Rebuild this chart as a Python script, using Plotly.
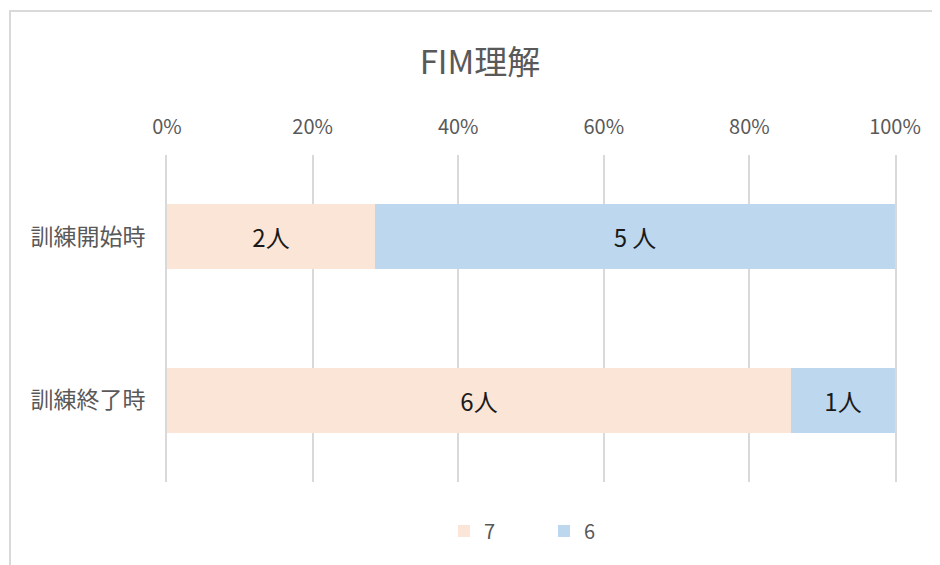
import plotly.graph_objects as go

categories = ["訓練開始時", "訓練終了時"]
series_names = ["7", "6"]
counts_7 = [2, 6]
counts_6 = [5, 1]
labels_7 = ["2人", "6人"]
labels_6 = ["5 人", "1人"]
tick_vals = [0, 20, 40, 60, 80, 100]
tick_text = ["0%", "20%", "40%", "60%", "80%", "100%"]

FONT = "Noto Sans CJK JP"
OFF = 8  # page body margin
W, H = 940 - OFF, 565 - OFF
L, R, T, B = 167 - OFF, 45, 155 - OFF, 83
pw, ph = W - L - R, H - T - B

fig = go.Figure()
fig.add_trace(go.Bar(
    y=categories, x=counts_7, name=series_names[0], orientation="h",
    marker=dict(color="#FBE5D6", line=dict(width=0)),
    text=labels_7, textposition="inside", insidetextanchor="middle",
    textfont=dict(family=FONT, size=24, color="#1a1a1a"), width=0.4,
    hoverinfo="skip",
))
fig.add_trace(go.Bar(
    y=categories, x=counts_6, name=series_names[1], orientation="h",
    marker=dict(color="#BDD7EE", line=dict(width=0)),
    text=labels_6, textposition="inside", insidetextanchor="middle",
    textfont=dict(family=FONT, size=24, color="#1a1a1a"), width=0.4,
    hoverinfo="skip",
))

def px_x(p):
    return (p - OFF - L) / pw

def px_y(p):
    return 1 - (p - OFF - T) / ph

fig.update_layout(
    width=W, height=H, autosize=False,
    barmode="stack", barnorm="percent",
    paper_bgcolor="white", plot_bgcolor="white",
    margin=dict(l=L, r=R, t=T, b=B, pad=0),
    font=dict(family=FONT, color="#595959"),
    title=dict(text="FIM理解", x=(480 - OFF) / W, xref="container", xanchor="center",
               y=1 - (62 - OFF) / H, yref="container", yanchor="middle",
               font=dict(family=FONT, size=33, color="#595959")),
    xaxis=dict(side="top", range=[0, 100], tickvals=tick_vals, ticktext=tick_text,
               showgrid=True, gridcolor="#D9D9D9", gridwidth=2,
               zeroline=False, showline=False, ticks="",
               tickfont=dict(family=FONT, size=20, color="#595959"),
               ticklabelstandoff=16, fixedrange=True),
    yaxis=dict(autorange="reversed", showgrid=False, zeroline=False,
               showline=True, mirror=True, linecolor="#D9D9D9", linewidth=2,
               ticks="", tickfont=dict(family=FONT, size=23, color="#595959"),
               ticklabelstandoff=15, fixedrange=True),
    legend=dict(orientation="h", x=px_x(544), xanchor="center", y=px_y(531),
                yanchor="middle", font=dict(family=FONT, size=20, color="#595959"),
                entrywidth=55, entrywidthmode="pixels", itemwidth=30,
                traceorder="normal"),
    showlegend=True,
    shapes=[dict(type="rect", xref="paper", yref="paper",
                 x0=px_x(10), x1=px_x(960), y0=px_y(600), y1=px_y(11),
                 line=dict(color="#D9D9D9", width=2), fillcolor="rgba(0,0,0,0)",
                 layer="below")],
)

fig.write_html("out.html")
